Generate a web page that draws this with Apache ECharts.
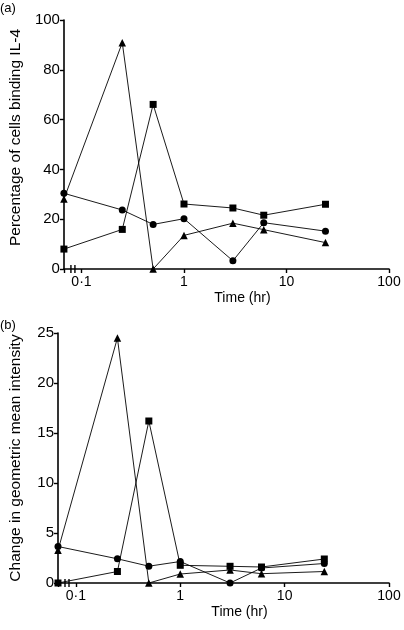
<!DOCTYPE html>
<html><head><meta charset="utf-8">
<script src="https://cdn.jsdelivr.net/npm/echarts@6/dist/echarts.min.js"></script>
<style>html,body{margin:0;padding:0;background:#fff}#c{width:404px;height:630px}</style>
</head><body><div id="c"></div>
<script>
// time points (hr); time 0 is drawn at the axis origin (broken axis)
var times = [0, 0.25, 0.5, 1, 3, 6, 24];
var X_ORIGIN = 0.0674;
var xTickValues = [0.1, 1, 10, 100];
var xTickLabels = ['0·1', '1', '10', '100'];

// panel (a): percentage of cells binding IL-4
var aTriangle = [28.1, 90.9, 0, 13.5, 18.4, 15.8, 10.6];
var aSquare   = [8.0, 15.9, 66.1, 26.1, 24.5, 21.6, 26.0];
var aCircle   = [30.4, 23.7, 17.9, 20.2, 3.3, 18.6, 15.2];

// panel (b): change in geometric mean intensity
var bTriangle = [3.27, 24.5, 0, 0.9, 1.3, 0.93, 1.15];
var bSquare   = [0, 1.15, 16.2, 1.77, 1.67, 1.6, 2.4];
var bCircle   = [3.65, 2.42, 1.68, 2.15, 0, 1.5, 1.95];

var FONT = 'Liberation Sans';
function pts(vals){ return vals.map(function(v,i){ return [times[i]===0 ? X_ORIGIN : times[i], v]; }); }
function series(vals, sym, size, idx){
  return {type:'line', xAxisIndex:idx, yAxisIndex:idx, data:pts(vals), symbol:sym, symbolSize:size,
    showAllSymbol:true, itemStyle:{color:'#000'}, lineStyle:{color:'#000', width:0.9}, z:3, animation:false};
}
function xAxis(idx){
  return {type:'log', gridIndex:idx, min:X_ORIGIN, max:100, logBase:10,
    axisLine:{lineStyle:{color:'#000', width:1.6}},
    axisTick:{customValues:[X_ORIGIN].concat(xTickValues), length:4, lineStyle:{color:'#000', width:1.4}},
    axisLabel:{customValues:xTickValues, color:'#000', fontFamily:FONT, fontSize:14, margin:6,
      formatter:function(v){ var i = xTickValues.findIndex(function(t){return Math.abs(t-v)/t<1e-6;}); return i>=0 ? xTickLabels[i] : ''; }},
    splitLine:{show:false}, minorTick:{show:false},
    name:'Time (hr)', nameLocation:'middle', nameGap:22,
    nameTextStyle:{color:'#000', fontFamily:FONT, fontSize:14, padding:[0,0,0,32]}};
}
function yAxis(idx, max, interval, name, shift){
  return {type:'value', gridIndex:idx, min:0, max:max, interval:interval,
    axisLine:{show:true, lineStyle:{color:'#000', width:1.6}},
    axisTick:{show:true, length:4, lineStyle:{color:'#000', width:1.4}},
    axisLabel:{color:'#000', fontFamily:FONT, fontSize:15, margin:4},
    splitLine:{show:false},
    name:name, nameLocation:'middle', nameGap:34,
    nameTextStyle:{color:'#000', fontFamily:FONT, fontSize:15.5, padding:[0,0,0,shift]}};
}
var chart = echarts.init(document.getElementById('c'), null, {renderer:'canvas'});
chart.setOption({
  animation:false,
  backgroundColor:'#fff',
  title:[
    {text:'(a)', left:0, top:2, textStyle:{fontFamily:FONT, fontSize:13, fontWeight:'normal', color:'#000'}, padding:0},
    {text:'(b)', left:0, top:319, textStyle:{fontFamily:FONT, fontSize:13, fontWeight:'normal', color:'#000'}, padding:0}
  ],
  grid:[
    {left:56, right:15, top:20, height:249},
    {left:56, right:15, top:333, height:250}
  ],
  xAxis:[xAxis(0), xAxis(1)],
  yAxis:[yAxis(0, 100, 20, 'Percentage of cells binding IL-4', 14), yAxis(1, 25, 5, 'Change in geometric mean intensity', 0)],
  series:[
    series(aCircle,'circle',7,0), series(aSquare,'rect',7,0), series(aTriangle,'triangle',7.5,0),
    series(bCircle,'circle',7,1), series(bSquare,'rect',7,1), series(bTriangle,'triangle',7.5,1)
  ]
});
// axis break marks
var gfx = [];
[0,1].forEach(function(g){
  var o = chart.convertToPixel({gridIndex:g}, [X_ORIGIN, 0]);
  [7, 11].forEach(function(dx){
    gfx.push({type:'line', shape:{x1:o[0]+dx, y1:o[1]-4, x2:o[0]+dx, y2:o[1]+4}, style:{stroke:'#000', lineWidth:1.4}, z:10});
  });
});
chart.setOption({graphic:gfx});
</script></body></html>
